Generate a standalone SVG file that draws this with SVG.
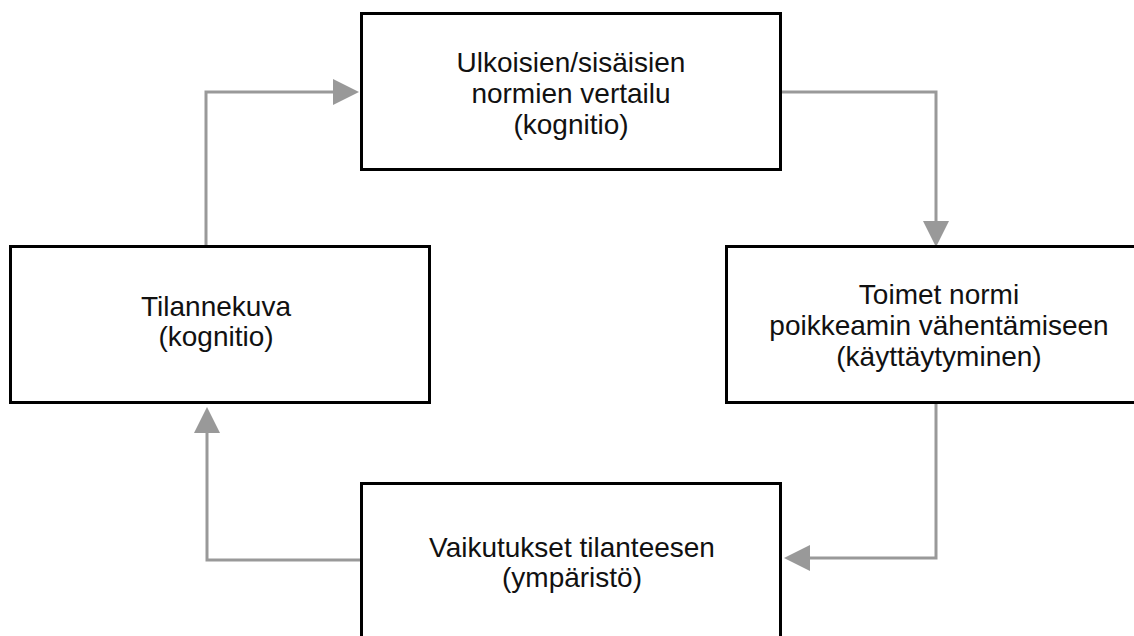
<svg xmlns="http://www.w3.org/2000/svg" width="1134" height="636" viewBox="0 0 1134 636">
<defs>
<style>
.box{fill:#fff;stroke:#000;stroke-width:3}
.lbl{font-family:"Liberation Sans",Arial,sans-serif;font-size:28px;fill:#111;text-anchor:middle}
.con{fill:none;stroke:#999;stroke-width:3}
</style>
<marker id="arr" markerUnits="userSpaceOnUse" markerWidth="26" markerHeight="26" viewBox="0 0 24 24" refX="0" refY="12" orient="auto">
<path d="M0,0 L24,12 L0,24 Z" fill="#999"/>
</marker>
</defs>
<rect width="1134" height="636" fill="#fff"/>
<g id="connectors">
<path class="con" d="M206,246 V92 H333" marker-end="url(#arr)"/>
<path class="con" d="M781,92 H936 V221" marker-end="url(#arr)"/>
<path class="con" d="M936,403 V558 H810" marker-end="url(#arr)"/>
<path class="con" d="M361,560 H207 V433" marker-end="url(#arr)"/>
</g>
<g id="n-top">
<rect class="box" x="361.5" y="13.5" width="419" height="156"/>
<text class="lbl" x="571" y="72">Ulkoisien/sisäisien</text>
<text class="lbl" x="571" y="103">normien vertailu</text>
<text class="lbl" x="571" y="134">(kognitio)</text>
</g>
<g id="n-left">
<rect class="box" x="10.5" y="246.5" width="419" height="156"/>
<text class="lbl" x="216" y="316">Tilannekuva</text>
<text class="lbl" x="216" y="346">(kognitio)</text>
</g>
<g id="n-right">
<rect class="box" x="726.5" y="246.5" width="430" height="156"/>
<text class="lbl" x="939" y="304">Toimet normi</text>
<text class="lbl" x="939" y="335">poikkeamin vähentämiseen</text>
<text class="lbl" x="939" y="366">(käyttäytyminen)</text>
</g>
<g id="n-bottom">
<rect class="box" x="361.5" y="483.5" width="419" height="160"/>
<text class="lbl" x="572" y="557">Vaikutukset tilanteesen</text>
<text class="lbl" x="572" y="587">(ympäristö)</text>
</g>
</svg>
